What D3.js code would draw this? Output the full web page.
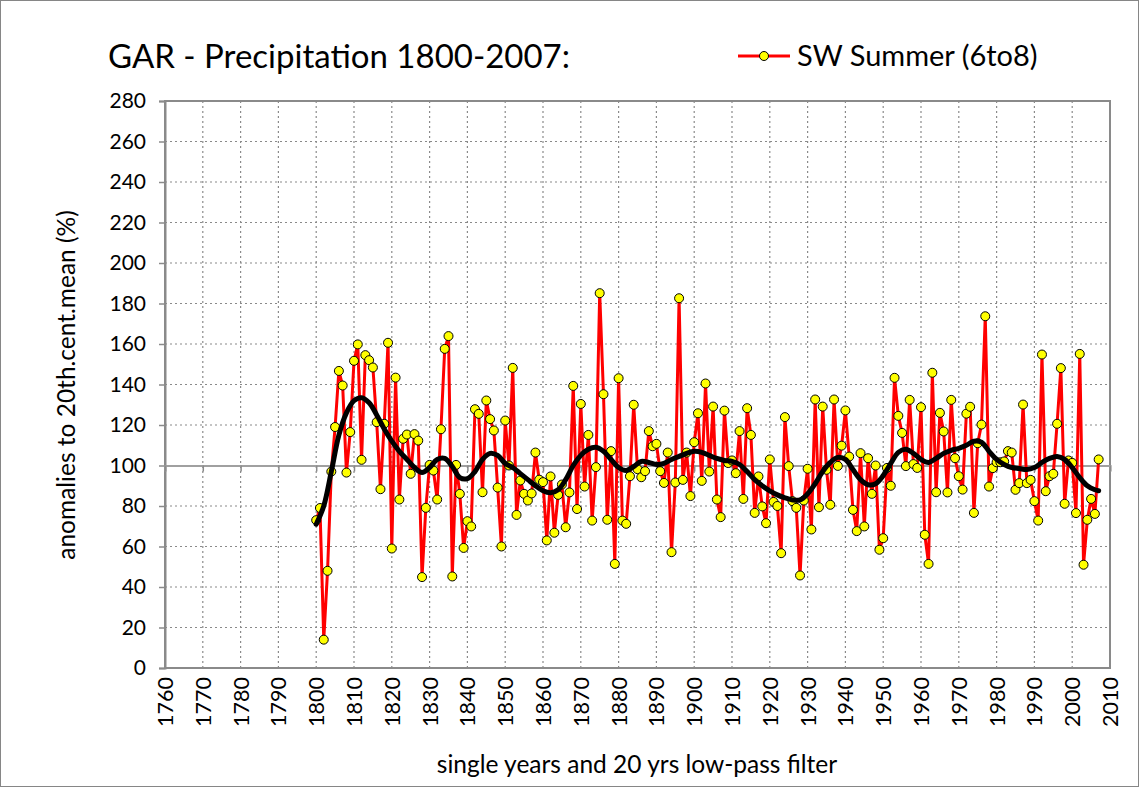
<!DOCTYPE html>
<html><head><meta charset="utf-8">
<script src="https://cdn.jsdelivr.net/npm/d3@7"></script>
<style>body{margin:0;background:#fff}svg{display:block}</style>
</head><body>
<svg id="c" width="1141" height="789"></svg>
<script>
const startYear = 1800;
const precip = [
 73, 79, 14, 48, 97, 119, 146.7, 139.5, 96.5, 116.5,
 151.7, 159.8, 102.8, 154.5, 152, 148.4, 121.4, 88.3, 120.6, 160.6,
 59, 143.4, 83.2, 113.2, 115.3, 95.9, 115.5, 112.3, 44.9, 79.1,
 100.3, 97.5, 83.2, 117.9, 157.6, 163.9, 45.2, 100.3, 86, 59.3,
 72.5, 69.9, 127.8, 125.5, 86.8, 132.1, 122.9, 117.3, 89.1, 60,
 122.2, 100, 148.2, 75.6, 92.6, 86, 82.7, 86.2, 106.4, 93,
 91.8, 63, 94.6, 66.8, 85.5, 90.6, 69.5, 86.7, 139.3, 78.5,
 130.4, 89.6, 115.1, 72.8, 99.2, 185.1, 135.2, 73.2, 107.1, 51.4,
 143.1, 72.8, 71.2, 94.7, 130, 98.2, 94.2, 97.2, 117, 109.5,
 110.7, 97.2, 91.4, 106.4, 57.2, 91.6, 182.6, 92.9, 106.4, 84.9,
 111.5, 125.8, 92.4, 140.5, 97, 129.1, 83.2, 74.5, 127.1, 101.2,
 102.5, 96.2, 117, 83.5, 128.3, 115.1, 76.6, 94.6, 79.8, 71.5,
 103, 82, 80, 56.7, 123.9, 99.7, 82.4, 79.1, 45.7, 82.7,
 98.4, 68.4, 132.6, 79.4, 129.1, 97.9, 80.6, 132.6, 99.8, 109.8,
 127.2, 104.4, 78.1, 67.6, 106.1, 69.9, 103.6, 86, 100, 58.4,
 64.1, 98.8, 90, 143.3, 124.5, 116.1, 99.7, 132.4, 100.7, 98.8,
 128.8, 65.8, 51.4, 145.8, 86.8, 126, 116.8, 86.7, 132.4, 103.6,
 94.7, 88.1, 125.6, 129, 76.6, 111, 120.2, 173.7, 89.6, 98.7,
 101.6, 101.6, 102, 107.1, 106.4, 88, 91.3, 130.1, 91.3, 92.9,
 82.4, 72.8, 154.8, 87.3, 94.7, 95.9, 120.6, 148.1, 81.1, 102.5,
 101.3, 76.5, 155.1, 51, 73.2, 83.5, 76.1, 103
];
const years = precip.map((v, i) => startYear + i);

const filterYears = [1800,1802,1804,1806,1808,1810,1812,1814,1816,1818,1820,1822,1824,1826,1828,1830,1832,1834,1836,1838,1840,1842,1844,1846,1848,1850,1852,1854,1856,1858,1860,1862,1864,1866,1868,1870,1872,1874,1876,1878,1880,1882,1884,1886,1888,1890,1892,1894,1896,1898,1900,1902,1904,1906,1908,1910,1912,1914,1916,1918,1920,1922,1924,1926,1928,1930,1932,1934,1936,1938,1940,1942,1944,1946,1948,1950,1952,1954,1956,1958,1960,1962,1964,1966,1968,1970,1972,1974,1976,1978,1980,1982,1984,1986,1988,1990,1992,1994,1996,1998,2000,2002,2004,2006,2007];
const filterValues = [71,80,97,115,126,132,133.5,131,125,118,112,107,103,99,96.5,99,103,103.5,99.5,94,93.5,97,103,106,105,101,99,96,93,90,87.5,86.5,88,93,100,105,108,109,107,103,99,97.5,99.5,102,101.5,100.5,101,103,104.5,106,107,106.5,105,103.5,102.5,102,100.5,97,93,90,87.5,85.5,84,83,83,86,91,97,101.5,104,103,98,93,90.5,91,95,101,106.5,108,106,103,101.5,103.5,106,107.5,108.5,110,112,111.5,107,103,100.5,99,98.5,98,99,101.5,103.5,104.5,103,99,94,90,88,87.5];

const xTicks = [1760,1770,1780,1790,1800,1810,1820,1830,1840,1850,1860,1870,1880,1890,1900,1910,1920,1930,1940,1950,1960,1970,1980,1990,2000,2010];
const yTicks = [0,20,40,60,80,100,120,140,160,180,200,220,240,260,280];

const titleText = "GAR - Precipitation 1800-2007:";
const legendText = "SW Summer (6to8)";
const xTitle = "single years and 20 yrs low-pass filter";
const yTitle = "anomalies to 20th.cent.mean (%)";

const FONT = "Lato, 'Open Sans', sans-serif";
const svg = d3.select("#c");
const L = 165, R = 1110, T = 101, B = 668;
const x = d3.scaleLinear().domain([1760, 2010]).range([L, R]);
const y = d3.scaleLinear().domain([0, 280]).range([B, T]);

// outer border
svg.append("rect").attr("x", 0.5).attr("y", 0.5).attr("width", 1138).attr("height", 786)
  .attr("fill", "#fff").attr("stroke", "#868686").attr("stroke-width", 1);

// grid
const g = svg.append("g");
g.selectAll(".hg").data(yTicks.filter(d => d !== 0 && d !== 280 && d !== 100)).join("line")
  .attr("x1", L).attr("x2", R).attr("y1", d => y(d)).attr("y2", d => y(d))
  .attr("stroke", "#8a8a8a").attr("stroke-width", 1.2).attr("stroke-dasharray", "2,3");
g.selectAll(".vg").data(xTicks.filter(d => d !== 1760 && d !== 2010)).join("line")
  .attr("x1", d => x(d)).attr("x2", d => x(d)).attr("y1", T).attr("y2", B)
  .attr("stroke", "#8a8a8a").attr("stroke-width", 1.2).attr("stroke-dasharray", "2,3");

// plot border
svg.append("rect").attr("x", L).attr("y", T).attr("width", R - L).attr("height", B - T)
  .attr("fill", "none").attr("stroke", "#8a8a8a").attr("stroke-width", 2);

// y axis
const yAxis = d3.axisLeft(y).tickValues(yTicks).tickSize(6).tickPadding(13);
const ya = svg.append("g").attr("transform", `translate(${L},0)`).call(yAxis);
ya.select(".domain").attr("stroke", "#8a8a8a").attr("stroke-width", 2);
ya.selectAll(".tick line").attr("stroke", "#8a8a8a").attr("stroke-width", 1.5);
ya.selectAll("text").attr("font-family", FONT).attr("font-size", 21).attr("fill", "#000");

// x axis crossing at 100
const xAxis = d3.axisBottom(x).tickValues(xTicks).tickSize(6).tickFormat("");
const xa = svg.append("g").attr("transform", `translate(0,${y(100)})`).call(xAxis);
xa.select(".domain").attr("stroke", "#a0a0a0").attr("stroke-width", 2);
xa.selectAll(".tick line").attr("stroke", "#8a8a8a").attr("stroke-width", 1.5);

// x tick labels (low)
svg.append("g").selectAll("text").data(xTicks).join("text")
  .attr("transform", d => `translate(${x(d) + 8},${B + 9}) rotate(-90)`)
  .attr("text-anchor", "end")
  .attr("font-family", FONT).attr("font-size", 21.5).attr("fill", "#000")
  .text(d => d);

// series line
const data = years.map((yr, i) => ({yr, v: precip[i]}));
svg.append("path").datum(data)
  .attr("d", d3.line().x(d => x(d.yr)).y(d => y(d.v)))
  .attr("fill", "none").attr("stroke", "#ff0000").attr("stroke-width", 3).attr("stroke-linejoin", "round");
svg.append("g").selectAll("circle").data(data).join("circle")
  .attr("cx", d => x(d.yr)).attr("cy", d => y(d.v)).attr("r", 4.5)
  .attr("fill", "#ffff00").attr("stroke", "#000").attr("stroke-width", 1);

// filter line
const fdata = filterYears.map((yr, i) => ({yr, v: filterValues[i]}));
svg.append("path").datum(fdata)
  .attr("d", d3.line().curve(d3.curveCatmullRom).x(d => x(d.yr)).y(d => y(d.v)))
  .attr("fill", "none").attr("stroke", "#000").attr("stroke-width", 5).attr("stroke-linecap", "round");

// titles
svg.append("text").attr("x", 108).attr("y", 68).attr("font-family", FONT).attr("font-size", 33)
  .attr("fill", "#000").text(titleText);
svg.append("line").attr("x1", 738).attr("x2", 790).attr("y1", 56).attr("y2", 56)
  .attr("stroke", "#ff0000").attr("stroke-width", 3);
svg.append("circle").attr("cx", 764).attr("cy", 56).attr("r", 4.5)
  .attr("fill", "#ffff00").attr("stroke", "#000").attr("stroke-width", 1);
svg.append("text").attr("x", 797).attr("y", 66).attr("font-family", FONT).attr("font-size", 29)
  .attr("fill", "#000").text(legendText);
svg.append("text").attr("x", 637).attr("y", 773).attr("text-anchor", "middle")
  .attr("font-family", FONT).attr("font-size", 24.5).attr("fill", "#000").text(xTitle);
svg.append("text").attr("transform", `translate(75,385) rotate(-90)`).attr("text-anchor", "middle")
  .attr("font-family", FONT).attr("font-size", 24.5).attr("fill", "#000").text(yTitle);
</script>
</body></html>
